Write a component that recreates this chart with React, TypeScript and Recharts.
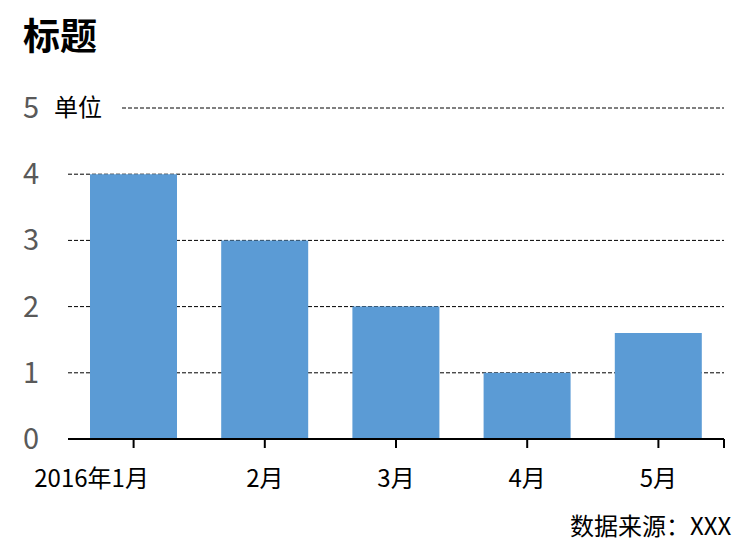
import React from 'react';
import { BarChart, Bar, XAxis, YAxis, CartesianGrid } from 'recharts';

const categories = ['2016年1月', '2月', '3月', '4月', '5月'];
const values = [4, 3, 2, 1, 1.6];
const yTicks = [0, 1, 2, 3, 4, 5];
const title = '标题';
const unitLabel = '单位';
const sourceText = '数据来源：XXX';

const data = categories.map((c, i) => ({ name: c, value: values[i] }));

const FONT = '"Noto Sans CJK SC", "Noto Sans", sans-serif';

const YTick = (props: any) => {
  const { x, y, payload } = props;
  const v = payload.value;
  return (
    <g>
      {v === 5 && (
        <>
          <rect x={x - 12} y={y - 14} width={72} height={28} fill="#fff" />
          <text x={x - 6} y={y + 8} fontSize={24} fill="#000" fontFamily={FONT}>
            {unitLabel}
          </text>
        </>
      )}
      <text x={x - 21} y={y + 10} fontSize={29} fill="#595959" textAnchor="end" fontFamily={FONT}>
        {v}
      </text>
    </g>
  );
};

const XTick = (props: any) => {
  const { x, y, payload, index } = props;
  const shift = index === 0 ? -42 : 0;
  return (
    <g>
      <line x1={x} y1={y - 8} x2={x} y2={y + 1} stroke="#000" strokeWidth={2} />
      {index === categories.length - 1 && (
        <line x1={x + 65.6} y1={y - 8} x2={x + 65.6} y2={y + 1} stroke="#000" strokeWidth={2} />
      )}
      <text x={x + shift} y={y + 40} fontSize={24} fill="#000" textAnchor="middle" fontFamily={FONT}>
        {payload.value}
      </text>
    </g>
  );
};

export default function App() {
  return (
    <div style={{ position: 'absolute', left: 0, top: 0, width: 749, height: 555, background: '#fff' }}>
      <BarChart
        width={749}
        height={555}
        data={data}
        margin={{ top: 108, right: 25, bottom: 0, left: 0 }}
      >
        <CartesianGrid vertical={false} stroke="#000" strokeDasharray="4 2" strokeWidth={1} />
        <YAxis
          width={68}
          domain={[0, 5]}
          ticks={yTicks}
          axisLine={false}
          tickLine={false}
          tick={<YTick />}
          interval={0}
        />
        <XAxis
          dataKey="name"
          height={116}
          axisLine={{ stroke: '#000', strokeWidth: 2 }}
          tickLine={false}
          tick={<XTick />}
          interval={0}
        />
        <Bar dataKey="value" fill="#5B9BD5" barSize={87} isAnimationActive={false} />
      </BarChart>
      <div
        style={{
          position: 'absolute',
          left: 23,
          top: 8,
          fontSize: 37,
          fontWeight: 'bold',
          fontFamily: FONT,
          color: '#000',
          lineHeight: '52px',
        }}
      >
        {title}
      </div>
      <div
        style={{
          position: 'absolute',
          left: 570,
          top: 508,
          fontSize: 24,
          fontFamily: FONT,
          color: '#000',
          lineHeight: '34px',
          whiteSpace: 'nowrap',
        }}
      >
        {sourceText}
      </div>
    </div>
  );
}
